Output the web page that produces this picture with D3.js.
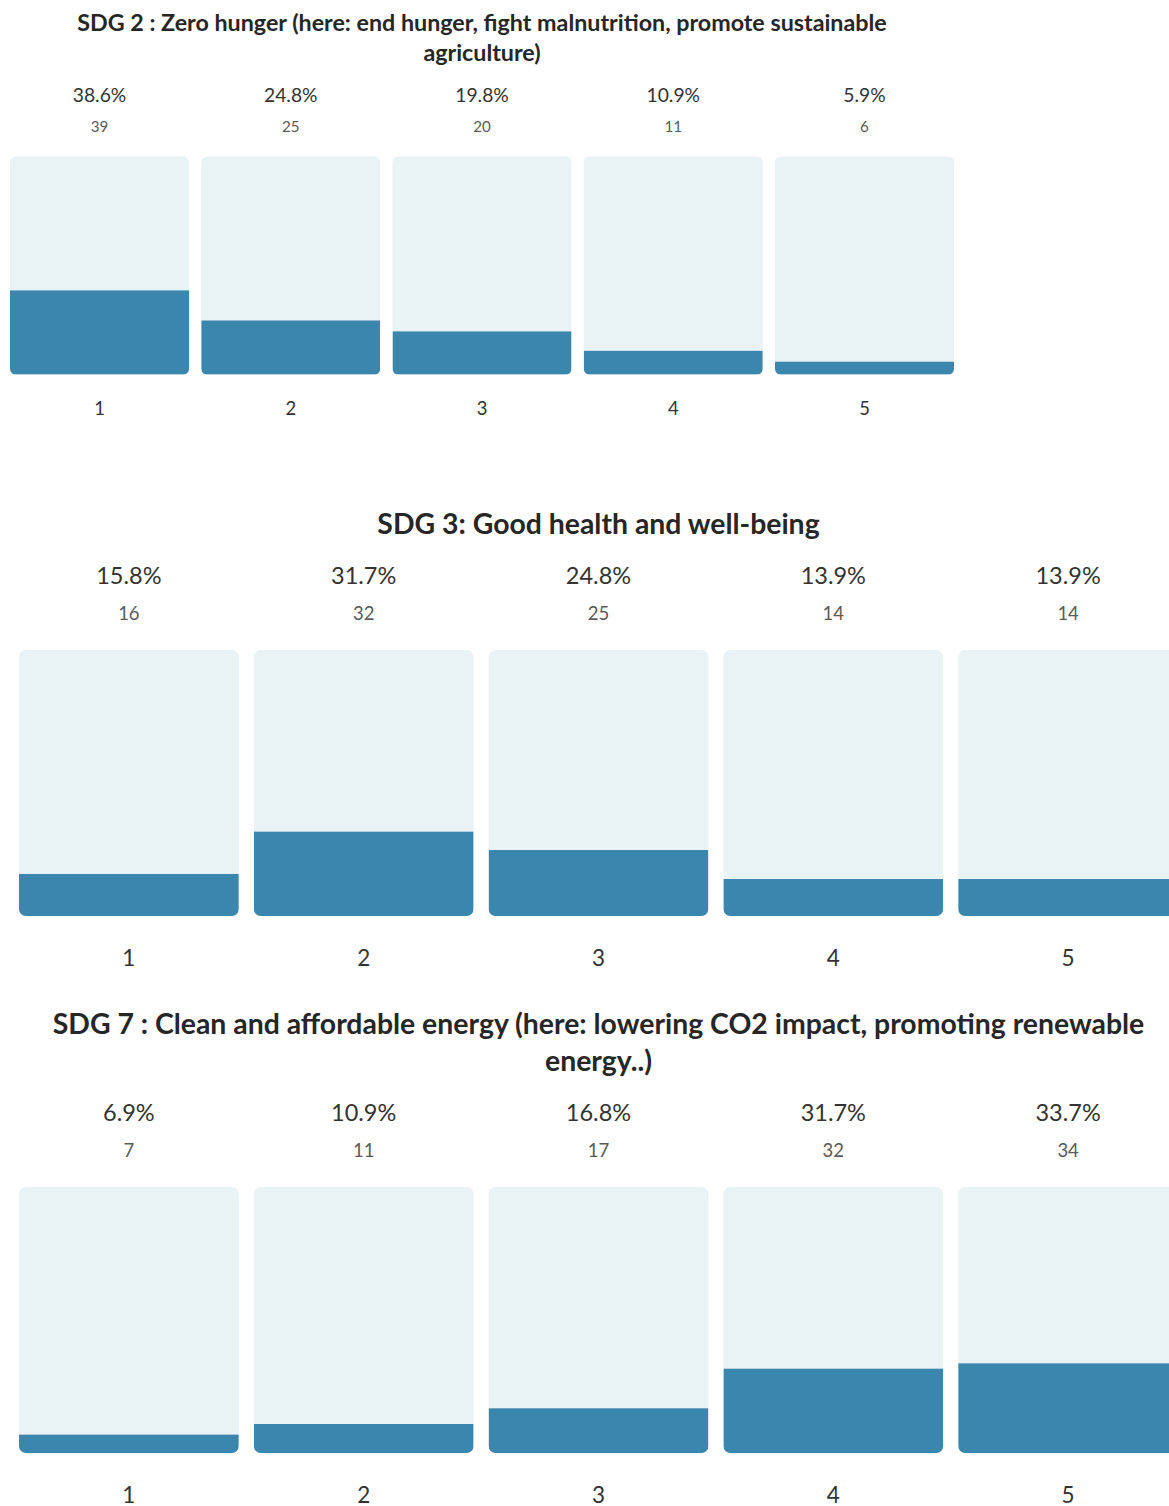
<!DOCTYPE html>
<html>
<head>
<meta charset="utf-8">
<script src="https://cdn.jsdelivr.net/npm/d3@7"></script>
<style>
  html, body { margin: 0; padding: 0; background: #fff; }
  svg { display: block; font-family: Lato, "Noto Sans", sans-serif; }
</style>
</head>
<body>
<div id="chart"></div>
<script>
const width = 1169;
const height = 1506;

// values
const categories = ["1", "2", "3", "4", "5"];

const sdg2Title = ["SDG 2 : Zero hunger (here: end hunger, fight malnutrition, promote sustainable", "agriculture)"];
const sdg2Pct = [38.6, 24.8, 19.8, 10.9, 5.9];
const sdg2Count = [39, 25, 20, 11, 6];

const sdg3Title = ["SDG 3: Good health and well-being"];
const sdg3Pct = [15.8, 31.7, 24.8, 13.9, 13.9];
const sdg3Count = [16, 32, 25, 14, 14];

const sdg7Title = ["SDG 7 : Clean and affordable energy (here: lowering CO2 impact, promoting renewable", "energy..)"];
const sdg7Pct = [6.9, 10.9, 16.8, 31.7, 33.7];
const sdg7Count = [7, 11, 17, 32, 34];

const svg = d3.select("#chart").append("svg")
  .attr("width", width)
  .attr("height", height);

const defs = svg.append("defs");
let clipId = 0;

// k = scale of the panel, firstLine = y of first title line, x0/x1 = bar span
function drawPanel(title, pct, count, k, firstLine, x0, x1) {
  const lineGap = 37 * k;
  const L = firstLine + (title.length - 1) * lineGap;   // last title line
  const cx = (x0 + x1) / 2;

  const x = d3.scaleBand()
    .domain(categories)
    .range([x0, x1])
    .paddingInner(0.064)
    .paddingOuter(0);

  const y = d3.scaleLinear()
    .domain([0, 100])
    .range([L + 393 * k, L + 127 * k]);

  const g = svg.append("g");

  g.append("text")
    .selectAll("tspan")
    .data(title)
    .join("tspan")
      .attr("x", cx)
      .attr("y", (d, i) => firstLine + i * lineGap)
      .attr("text-anchor", "middle")
      .attr("dominant-baseline", "central")
      .attr("font-weight", 700)
      .attr("font-size", 28.4 * k)
      .attr("fill", "#262626")
      .text(d => d);

  const data = categories.map((c, i) => ({cat: c, pct: pct[i], count: count[i]}));
  const r = 7 * k;

  const bars = g.selectAll("g.bar")
    .data(data)
    .join("g")
      .attr("class", "bar");

  bars.each(function(d) {
    const id = "clip" + (clipId++);
    defs.append("clipPath").attr("id", id)
      .append("rect")
        .attr("x", x(d.cat))
        .attr("y", y(100))
        .attr("width", x.bandwidth())
        .attr("height", y(0) - y(100))
        .attr("rx", r);
    d.clip = id;
  });

  bars.append("rect")
    .attr("x", d => x(d.cat))
    .attr("y", y(100))
    .attr("width", x.bandwidth())
    .attr("height", y(0) - y(100))
    .attr("rx", r)
    .attr("fill", "#e9f2f5");

  bars.append("rect")
    .attr("clip-path", d => `url(#${d.clip})`)
    .attr("x", d => x(d.cat))
    .attr("y", d => y(d.pct))
    .attr("width", x.bandwidth())
    .attr("height", d => y(0) - y(d.pct))
    .attr("fill", "#3b86ac");

  bars.append("text")
    .attr("x", d => x(d.cat) + x.bandwidth() / 2)
    .attr("y", L + 52 * k)
    .attr("text-anchor", "middle")
    .attr("dominant-baseline", "central")
    .attr("font-size", 23.5 * k)
    .attr("fill", "#333")
    .text(d => d.pct.toFixed(1) + "%");

  bars.append("text")
    .attr("x", d => x(d.cat) + x.bandwidth() / 2)
    .attr("y", L + 90 * k)
    .attr("text-anchor", "middle")
    .attr("dominant-baseline", "central")
    .attr("font-size", 18.5 * k)
    .attr("fill", "#5a5a5a")
    .text(d => d.count);

  bars.append("text")
    .attr("x", d => x(d.cat) + x.bandwidth() / 2)
    .attr("y", L + 434 * k)
    .attr("text-anchor", "middle")
    .attr("dominant-baseline", "central")
    .attr("font-size", 22.5 * k)
    .attr("fill", "#333")
    .text(d => d.cat);
}

drawPanel(sdg2Title, sdg2Pct, sdg2Count, 0.82, 22, 10, 954);
drawPanel(sdg3Title, sdg3Pct, sdg3Count, 1, 523, 19, 1178);
drawPanel(sdg7Title, sdg7Pct, sdg7Count, 1, 1023, 19, 1178);
</script>
</body>
</html>
